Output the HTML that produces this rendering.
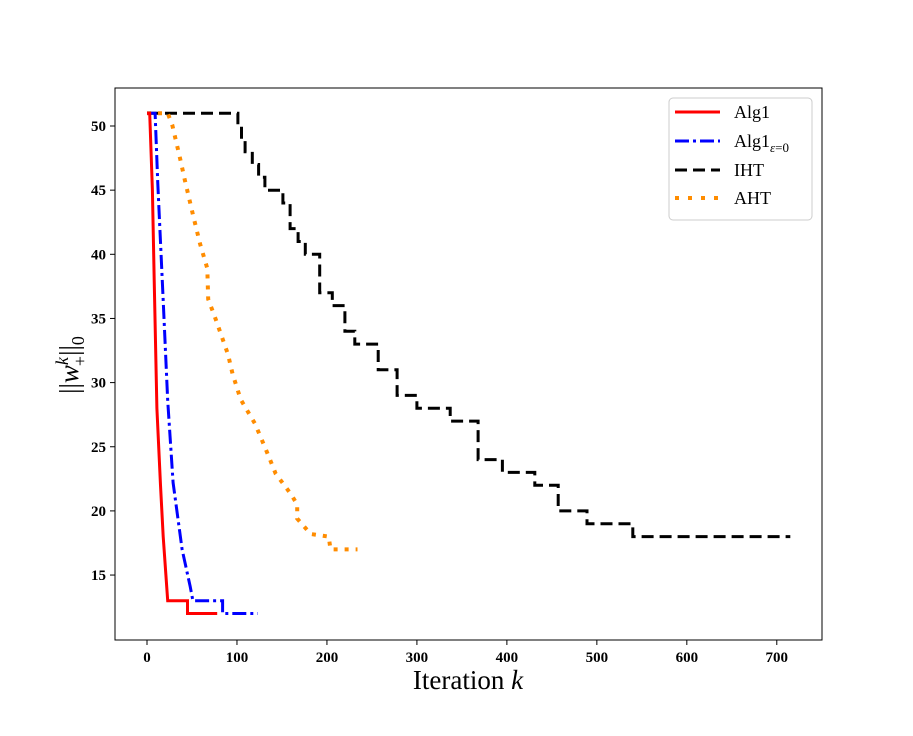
<!DOCTYPE html>
<html><head><meta charset="utf-8"><style>
body{margin:0;background:#fff}
svg text{font-family:"Liberation Serif",serif}
</style></head><body>
<svg id="c" width="913" height="731" xmlns="http://www.w3.org/2000/svg">
<rect x="115" y="88" width="707" height="552" fill="none" stroke="#000" stroke-width="1"/>
<g id="ticks"></g>
<g id="series"></g>
<text x="468" y="689" font-size="27" text-anchor="middle">Iteration <tspan font-style="italic">k</tspan></text>
<text transform="translate(78,365) rotate(-90)" font-size="27" text-anchor="middle">||<tspan font-style="italic">w</tspan><tspan font-size="18" dy="-10" font-style="italic">k</tspan><tspan font-size="18" dx="-9" dy="18">+</tspan><tspan dy="-8">||</tspan><tspan font-size="18" dy="6">0</tspan></text>
<g>
<rect x="669" y="98" width="143" height="122" rx="4" fill="#fff" stroke="#ccc" stroke-width="1"/>
<line x1="675" y1="112" x2="720" y2="112" stroke="#f00" stroke-width="3"/>
<text x="734" y="118" font-size="18">Alg1</text>
<line x1="675" y1="141" x2="720" y2="141" stroke="#00f" stroke-width="3" stroke-dasharray="14,4,3,4"/>
<text x="734" y="147" font-size="18">Alg1<tspan font-size="13" dy="5" font-style="italic">ε</tspan><tspan font-size="13">=0</tspan></text>
<line x1="675" y1="170" x2="720" y2="170" stroke="#000" stroke-width="3" stroke-dasharray="12,6"/>
<text x="734" y="176" font-size="18">IHT</text>
<line x1="675" y1="198" x2="720" y2="198" stroke="#ff8c00" stroke-width="4" stroke-dasharray="4,9"/>
<text x="734" y="204" font-size="18">AHT</text>
</g>
</svg>
<script>
const xTicks=[0,100,200,300,400,500,600,700];
const yTicks=[15,20,25,30,35,40,45,50];
const algIter=[0,3,6,8,11,15,18,21,23,45,45,78];
const algVal=[51,51,45,38,28,22,18,15,13,13,12,12];
const alg0Iter=[0,9,12,18,23,29,39,48,51,84,84,123];
const alg0Val=[51,51,45.5,36.4,28.6,22.2,17,14.1,13,13,12,12];
// IHT as step changes: value becomes ihtVal[i] at ihtIter[i]
const ihtIter=[0,101,105,109,117,124,131,151,159,168,176,192,206,220,231,257,278,300,337,368,395,431,457,489,540,715];
const ihtVal=[51,50,49,48,47,46,45,44,42,41,40,37,36,34,33,31,29,28,27,24,23,22,20,19,18,18];
const ahtIter=[0,23,28,37,42,51,59,67,68,76,90,95,104,120,132,143,160,167,167,182,202,204,234];
const ahtVal=[51,51,50.1,47.4,45.8,43.1,40.8,38.9,36.5,35,32.2,30.7,28.7,26.8,24.8,22.9,21.3,20.5,19.4,18.2,18,17,17];
const X=v=>147+v*0.8997, Y=v=>126+(50-v)*12.83;
const NS="http://www.w3.org/2000/svg";
const tk=document.getElementById('ticks');
function mk(t,a,p){const e=document.createElementNS(NS,t);for(const k in a)e.setAttribute(k,a[k]);p.appendChild(e);return e;}
xTicks.forEach(v=>{
 const l=mk('line',{x1:X(v),x2:X(v),y1:640,y2:645,stroke:'#000'},tk);
 
 
 const t=mk('text',{x:X(v),y:662,'font-size':15,'font-weight':'bold','text-anchor':'middle'},tk);
 t.textContent=v;
 
 
});
yTicks.forEach(v=>{
 const l=mk('line',{x1:110,x2:115,y1:Y(v),y2:Y(v),stroke:'#000'},tk);
 
 
 const t=mk('text',{x:106,y:Y(v)+5,'font-size':15,'font-weight':'bold','text-anchor':'end'},tk);
 t.textContent=v;
 
 
});
const sg=document.getElementById('series');
function line(it,va,style,name,step){
 let p=[];
 it.forEach((v,i)=>{
  if(step&&i>0)p.push(X(v).toFixed(1)+','+Y(va[i-1]).toFixed(1));
  p.push(X(v).toFixed(1)+','+Y(va[i]).toFixed(1));
 });
 const el=mk('polyline',Object.assign({points:p.join(' '),fill:'none'},style),sg);
 
 
}
line(ihtIter,ihtVal,{stroke:'#000','stroke-width':3,'stroke-dasharray':'12,6'},'series-iht',true);
line(ahtIter,ahtVal,{stroke:'#ff8c00','stroke-width':4,'stroke-dasharray':'4,7'},'series-aht',false);
line(alg0Iter,alg0Val,{stroke:'#00f','stroke-width':3,'stroke-dasharray':'14,4,3,4'},'series-alg1-eps0',false);
line(algIter,algVal,{stroke:'#f00','stroke-width':3},'series-alg1',false);
</script>
</body></html>
